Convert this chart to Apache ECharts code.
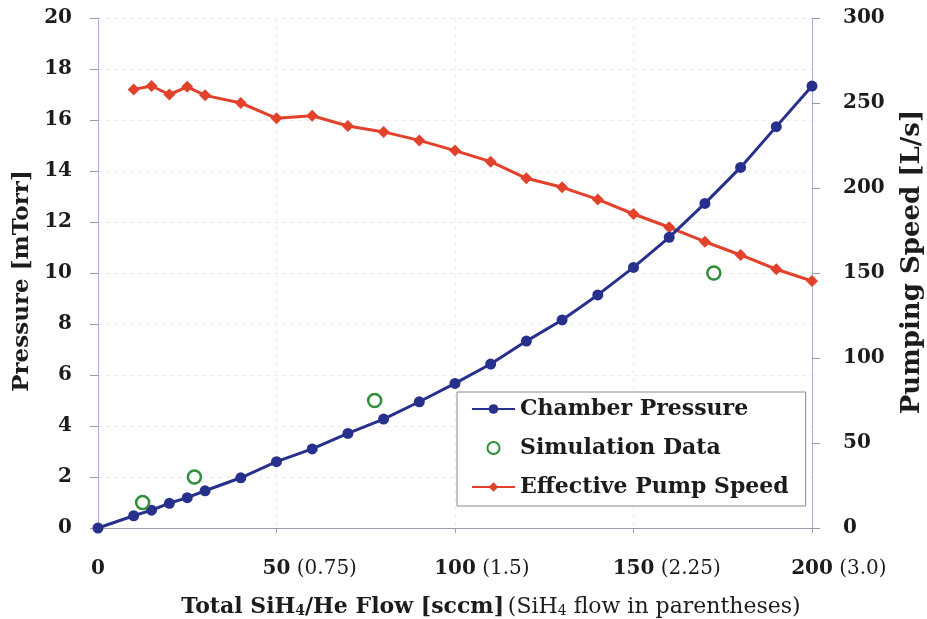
<!DOCTYPE html>
<html>
<head>
<meta charset="utf-8">
<script src="https://cdn.jsdelivr.net/npm/echarts@6/dist/echarts.min.js"></script>
<style>
  html, body { margin: 0; padding: 0; background: #fff; }
  #chart { width: 927px; height: 619px; }
</style>
</head>
<body>
<div id="chart"></div>
<script>
// total flow [sccm] and measured values
const flowPressure = [0, 10, 15, 20, 25, 30, 40, 50, 60, 70, 80, 90, 100, 110, 120, 130, 140, 150, 160, 170, 180, 190, 200]
const chamberPressure = [0, 0.48, 0.7, 0.97, 1.19, 1.46, 1.97, 2.6, 3.1, 3.71, 4.27, 4.95, 5.67, 6.43, 7.33, 8.16, 9.14, 10.22, 11.4, 12.73, 14.14, 15.74, 17.33]

const flowPump = [10, 15, 20, 25, 30, 40, 50, 60, 70, 80, 90, 100, 110, 120, 130, 140, 150, 160, 170, 180, 190, 200]
const pumpSpeed = [258, 260, 255, 259.5, 254.5, 250, 241, 242.5, 236.5, 233, 228, 222, 215.5, 205.7, 200.4, 193.3, 184.7, 176.9, 168.4, 160.6, 152.2, 145.3]

const flowSim = [12.5, 27, 77.5, 172.5]
const simPressure = [1, 2, 5, 10]

// SiH4 flow shown in parentheses under each tick
const silaneLabels = { 50: '(0.75)', 100: '(1.5)', 150: '(2.25)', 200: '(3.0)' }

const serif = 'DejaVu Serif'
const ink = '#1c1c1c'
const blue = '#27308c'
const red = '#e2412b'
const green = '#2f8f3a'

const chart = echarts.init(document.getElementById('chart'))

const pair = (xs, ys) => xs.map((x, i) => [x, ys[i]])

const gridLine = {
  show: true,
  lineStyle: { color: '#ebebf0', type: [4, 4], width: 1 },
}

const option = {
  animation: false,
  textStyle: { fontFamily: serif },
  grid: { left: 98, right: 115, top: 18, bottom: 91, outerBoundsMode: 'none' },
  legend: {
    orient: 'vertical',
    left: 457,
    top: 392,
    padding: [6, 17, 8, 14],
    itemWidth: 43,
    itemHeight: 12,
    itemGap: 17,
    backgroundColor: '#fff',
    borderColor: '#8a8a8a',
    borderWidth: 1,
    borderRadius: 0,
    textStyle: { fontFamily: serif, fontSize: 22, fontWeight: 'bold', color: ink, lineHeight: 20 },
    data: ['Chamber Pressure', 'Simulation Data', 'Effective Pump Speed'],
  },
  xAxis: {
    type: 'value',
    min: 0,
    max: 200,
    interval: 50,
    name: '{b|Total SiH}{sb|4}{b|/He Flow [sccm]} {r|(SiH}{sr|4}{r| flow in parentheses)}',
    nameLocation: 'middle',
    nameGap: 62,
    nameTextStyle: {
      padding: [0, 0, 0, 72],
      rich: {
        b: { fontFamily: serif, fontSize: 22, fontWeight: 'bold', color: ink, lineHeight: 28, verticalAlign: 'bottom' },
        sb: { fontFamily: serif, fontSize: 14, fontWeight: 'bold', color: ink, lineHeight: 20, verticalAlign: 'bottom' },
        r: { fontFamily: serif, fontSize: 22, color: ink, lineHeight: 28, verticalAlign: 'bottom' },
        sr: { fontFamily: serif, fontSize: 14, color: ink, lineHeight: 20, verticalAlign: 'bottom' },
      },
    },
    axisLine: { show: true, lineStyle: { color: '#9a9aae', width: 1 } },
    axisTick: { show: true, length: 5, lineStyle: { color: '#9a9aae' } },
    splitLine: gridLine,
    axisLabel: {
      margin: 31,
      formatter: v => {
        const p = silaneLabels[v]
        if (!p) return '{b|' + v + '}'
        return '{h| ' + p + '}{b|' + v + '}{r| ' + p + '}'
      },
      rich: {
        b: { fontFamily: serif, fontSize: 20, fontWeight: 'bold', color: ink },
        r: { fontFamily: serif, fontSize: 20, color: ink },
        h: { fontFamily: serif, fontSize: 20, color: 'rgba(0,0,0,0)' },
      },
    },
  },
  yAxis: [
    {
      type: 'value',
      min: 0,
      max: 20,
      interval: 2,
      name: 'Pressure [mTorr]',
      nameLocation: 'middle',
      nameGap: 63,
      nameTextStyle: { fontFamily: serif, fontSize: 23, fontWeight: 'bold', color: ink, padding: [0, 16, 0, 0] },
      axisLine: { show: true, lineStyle: { color: '#a8acd8', width: 1 } },
      axisTick: { show: true, length: 8, lineStyle: { color: '#9a9aae' } },
      splitLine: gridLine,
      axisLabel: { margin: 26, fontFamily: serif, fontSize: 20, fontWeight: 'bold', color: ink },
    },
    {
      type: 'value',
      min: 0,
      max: 300,
      interval: 50,
      position: 'right',
      name: 'Pumping Speed [L/s]',
      nameLocation: 'middle',
      nameRotate: 90,
      nameGap: 87,
      nameTextStyle: { fontFamily: serif, fontSize: 26, fontWeight: 'bold', color: ink, padding: [0, 0, 0, 22] },
      axisLine: { show: true, lineStyle: { color: '#a8acd8', width: 1 } },
      axisTick: { show: true, length: 8, lineStyle: { color: '#9a9aae' } },
      splitLine: { show: false },
      axisLabel: { margin: 31, fontFamily: serif, fontSize: 20, fontWeight: 'bold', color: ink },
    },
  ],
  series: [
    {
      name: 'Chamber Pressure',
      type: 'line',
      yAxisIndex: 0,
      data: pair(flowPressure, chamberPressure),
      symbol: 'circle',
      symbolSize: 11,
      showAllSymbol: true,
      color: blue,
      lineStyle: { color: blue, width: 3 },
      itemStyle: { color: blue },
      z: 3,
    },
    {
      name: 'Simulation Data',
      type: 'scatter',
      yAxisIndex: 0,
      data: pair(flowSim, simPressure),
      symbol: 'circle',
      symbolSize: 13,
      color: green,
      itemStyle: { color: '#fff', borderColor: green, borderWidth: 2.5, opacity: 1 },
      z: 4,
    },
    {
      name: 'Effective Pump Speed',
      type: 'line',
      yAxisIndex: 1,
      data: pair(flowPump, pumpSpeed),
      symbol: 'diamond',
      symbolSize: 12,
      showAllSymbol: true,
      color: red,
      lineStyle: { color: red, width: 3 },
      itemStyle: { color: red },
      z: 2,
    },
  ],
}

chart.setOption(option)
window.addEventListener('resize', () => chart.resize())
</script>
</body>
</html>
